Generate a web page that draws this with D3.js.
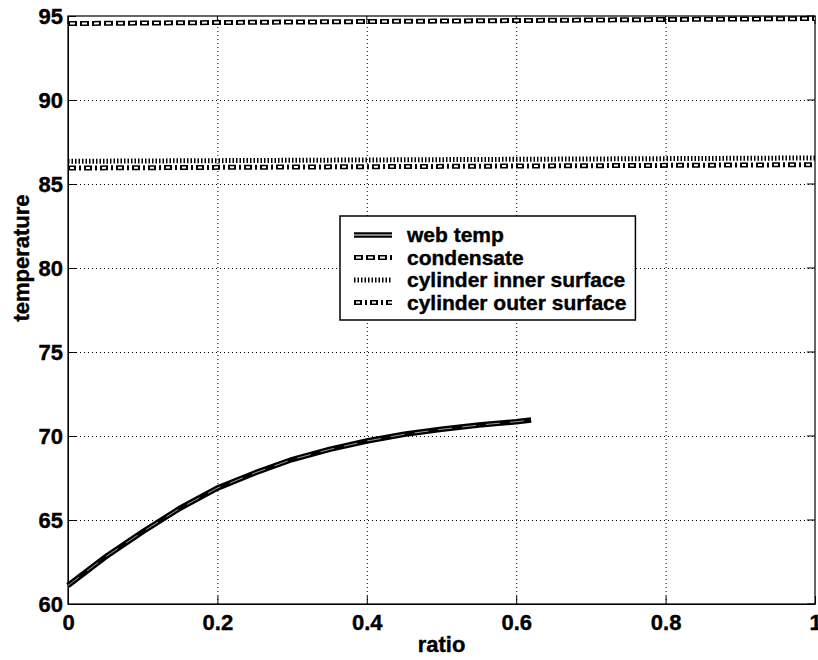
<!DOCTYPE html>
<html>
<head>
<meta charset="utf-8">
<script src="https://cdn.jsdelivr.net/npm/d3@7"></script>
<style>
  body { margin: 0; background: #fff; }
  svg { font-family: "Liberation Sans", Arial, sans-serif; font-weight: bold; }
  text { stroke: #000; stroke-width: 0.4; }
</style>
</head>
<body>
<svg id="chart"></svg>
<script>
// web temp curve
var ratio = [0, 0.05, 0.1, 0.15, 0.2, 0.25, 0.3, 0.35, 0.4, 0.45, 0.5, 0.55, 0.6, 0.62];
var webTemp = [61.1, 62.8, 64.3, 65.7, 66.9, 67.8, 68.6, 69.2, 69.7, 70.1, 70.4, 70.65, 70.85, 70.95];

// the three near-flat lines, over the whole ratio range
var ratioFull = [0, 1];
var condensate = [94.55, 94.85];
var innerSurface = [86.35, 86.55];
var outerSurface = [85.95, 86.15];

var xTicks = [0, 0.2, 0.4, 0.6, 0.8, 1];
var yTicks = [60, 65, 70, 75, 80, 85, 90, 95];
var legendNames = ["web temp", "condensate", "cylinder inner surface", "cylinder outer surface"];

var width = 818, height = 660;
var margin = {top: 16, right: 3, bottom: 56, left: 68};
var fontSize = 22;

var svg = d3.select("#chart").attr("width", width).attr("height", height);

var x = d3.scaleLinear().domain([0, 1]).range([margin.left, width - margin.right]);
var y = d3.scaleLinear().domain([60, 95]).range([height - margin.bottom, margin.top]);

// grid
var grid = svg.append("g")
  .attr("stroke", "#000")
  .attr("stroke-width", 1)
  .attr("stroke-dasharray", "1,3");
grid.selectAll(".gx")
  .data(xTicks.filter(d => d > 0 && d < 1))
  .enter().append("line")
  .attr("x1", d => x(d) + 0.5).attr("x2", d => x(d) + 0.5)
  .attr("y1", y(60)).attr("y2", y(95));
grid.selectAll(".gy")
  .data(yTicks.filter(d => d > 60 && d < 95))
  .enter().append("line")
  .attr("y1", d => y(d) + 0.5).attr("y2", d => y(d) + 0.5)
  .attr("x1", x(0)).attr("x2", x(1));

// axes (ticks pointing inwards like matlab)
var xAxis = g => g
  .attr("transform", `translate(0,${y(60)})`)
  .call(d3.axisBottom(x).tickValues(xTicks).tickFormat(d3.format("")).tickSizeInner(-8).tickSizeOuter(0).tickPadding(10))
  .call(g => g.selectAll("text").attr("font-size", fontSize).attr("font-weight", "bold").attr("font-family", "Liberation Sans, Arial, sans-serif"));

var yAxis = g => g
  .attr("transform", `translate(${x(0)},0)`)
  .call(d3.axisLeft(y).tickValues(yTicks).tickSizeInner(-8).tickSizeOuter(0).tickPadding(5))
  .call(g => g.selectAll("text").attr("font-size", fontSize).attr("font-weight", "bold").attr("font-family", "Liberation Sans, Arial, sans-serif"));

svg.append("g").call(xAxis);
svg.append("g").call(yAxis);

// right and top ticks + box
svg.append("g").selectAll("line")
  .data(yTicks).enter().append("line")
  .attr("x1", x(1)).attr("x2", x(1) - 8)
  .attr("y1", d => y(d)).attr("y2", d => y(d))
  .attr("stroke", "#000");
svg.append("g").selectAll("line")
  .data(xTicks).enter().append("line")
  .attr("y1", y(95)).attr("y2", y(95) + 8)
  .attr("x1", d => x(d)).attr("x2", d => x(d))
  .attr("stroke", "#000");
svg.append("rect")
  .attr("x", x(0)).attr("y", y(95))
  .attr("width", x(1) - x(0)).attr("height", y(60) - y(95))
  .attr("fill", "none").attr("stroke", "#000").attr("stroke-width", 1.2);

// axis labels
svg.append("text")
  .attr("x", (x(0) + x(1)) / 2).attr("y", 652)
  .attr("text-anchor", "middle").attr("font-size", fontSize)
  .text("ratio");
svg.append("text")
  .attr("transform", "translate(29,258) rotate(-90)")
  .attr("text-anchor", "middle").attr("font-size", fontSize)
  .text("temperature");

var line = d3.line().x(d => x(d[0])).y(d => y(d[1]));

// line styles: black outer stroke, white inner stroke gives the hollow look
var styles = [
  {outer: {w: 5.5, dash: null}, inner: {w: 1, dash: "14,10", off: 0, op: 0.6}},
  {outer: {w: 5, dash: "9,3"}, inner: {w: 2, dash: "5,7", off: -2, op: 1}},
  {outer: {w: 5, dash: "1.5,2"}, inner: null},
  {outer: {w: 5, dash: "8,3,2,3"}, inner: {w: 2, dash: "4,12", off: -2, op: 1}}
];

function drawSeries(g, pts, st) {
  g.append("path")
    .attr("d", line(pts))
    .attr("fill", "none").attr("stroke", "#000")
    .attr("stroke-width", st.outer.w)
    .attr("stroke-dasharray", st.outer.dash);
  if (st.inner) {
    g.append("path")
      .attr("d", line(pts))
      .attr("fill", "none").attr("stroke", "#fff")
      .attr("stroke-opacity", st.inner.op)
      .attr("stroke-width", st.inner.w)
      .attr("stroke-dasharray", st.inner.dash)
      .attr("stroke-dashoffset", st.inner.off);
  }
}

var plot = svg.append("g");
drawSeries(plot, ratio.map((r, i) => [r, webTemp[i]]), styles[0]);
drawSeries(plot, ratioFull.map((r, i) => [r, condensate[i]]), styles[1]);
drawSeries(plot, ratioFull.map((r, i) => [r, innerSurface[i]]), styles[2]);
drawSeries(plot, ratioFull.map((r, i) => [r, outerSurface[i]]), styles[3]);

// legend
var lg = svg.append("g").attr("transform", "translate(340,216)");
var box = lg.append("rect")
  .attr("height", 104)
  .attr("fill", "#fff").attr("stroke", "#000").attr("stroke-width", 1.5);
var maxW = 0;
legendNames.forEach(function(name, i) {
  var row = lg.append("g").attr("transform", `translate(0,${19 + i * 22.5})`);
  var seg = [[14, 0], [52, 0]];
  var l2 = d3.line();
  row.append("path").attr("d", l2(seg)).attr("fill", "none").attr("stroke", "#000")
    .attr("stroke-width", styles[i].outer.w).attr("stroke-dasharray", styles[i].outer.dash);
  if (styles[i].inner) {
    row.append("path").attr("d", l2(seg)).attr("fill", "none").attr("stroke", "#fff")
      .attr("stroke-width", styles[i].inner.w)
      .attr("stroke-dasharray", i == 0 ? null : styles[i].inner.dash)
      .attr("stroke-dashoffset", styles[i].inner.off);
  }
  var t = row.append("text")
    .attr("x", 67).attr("y", 7)
    .attr("font-size", 21)
    .text(name);
  maxW = Math.max(maxW, t.node().getComputedTextLength());
});
box.attr("width", 67 + maxW + 9);
</script>
</body>
</html>
